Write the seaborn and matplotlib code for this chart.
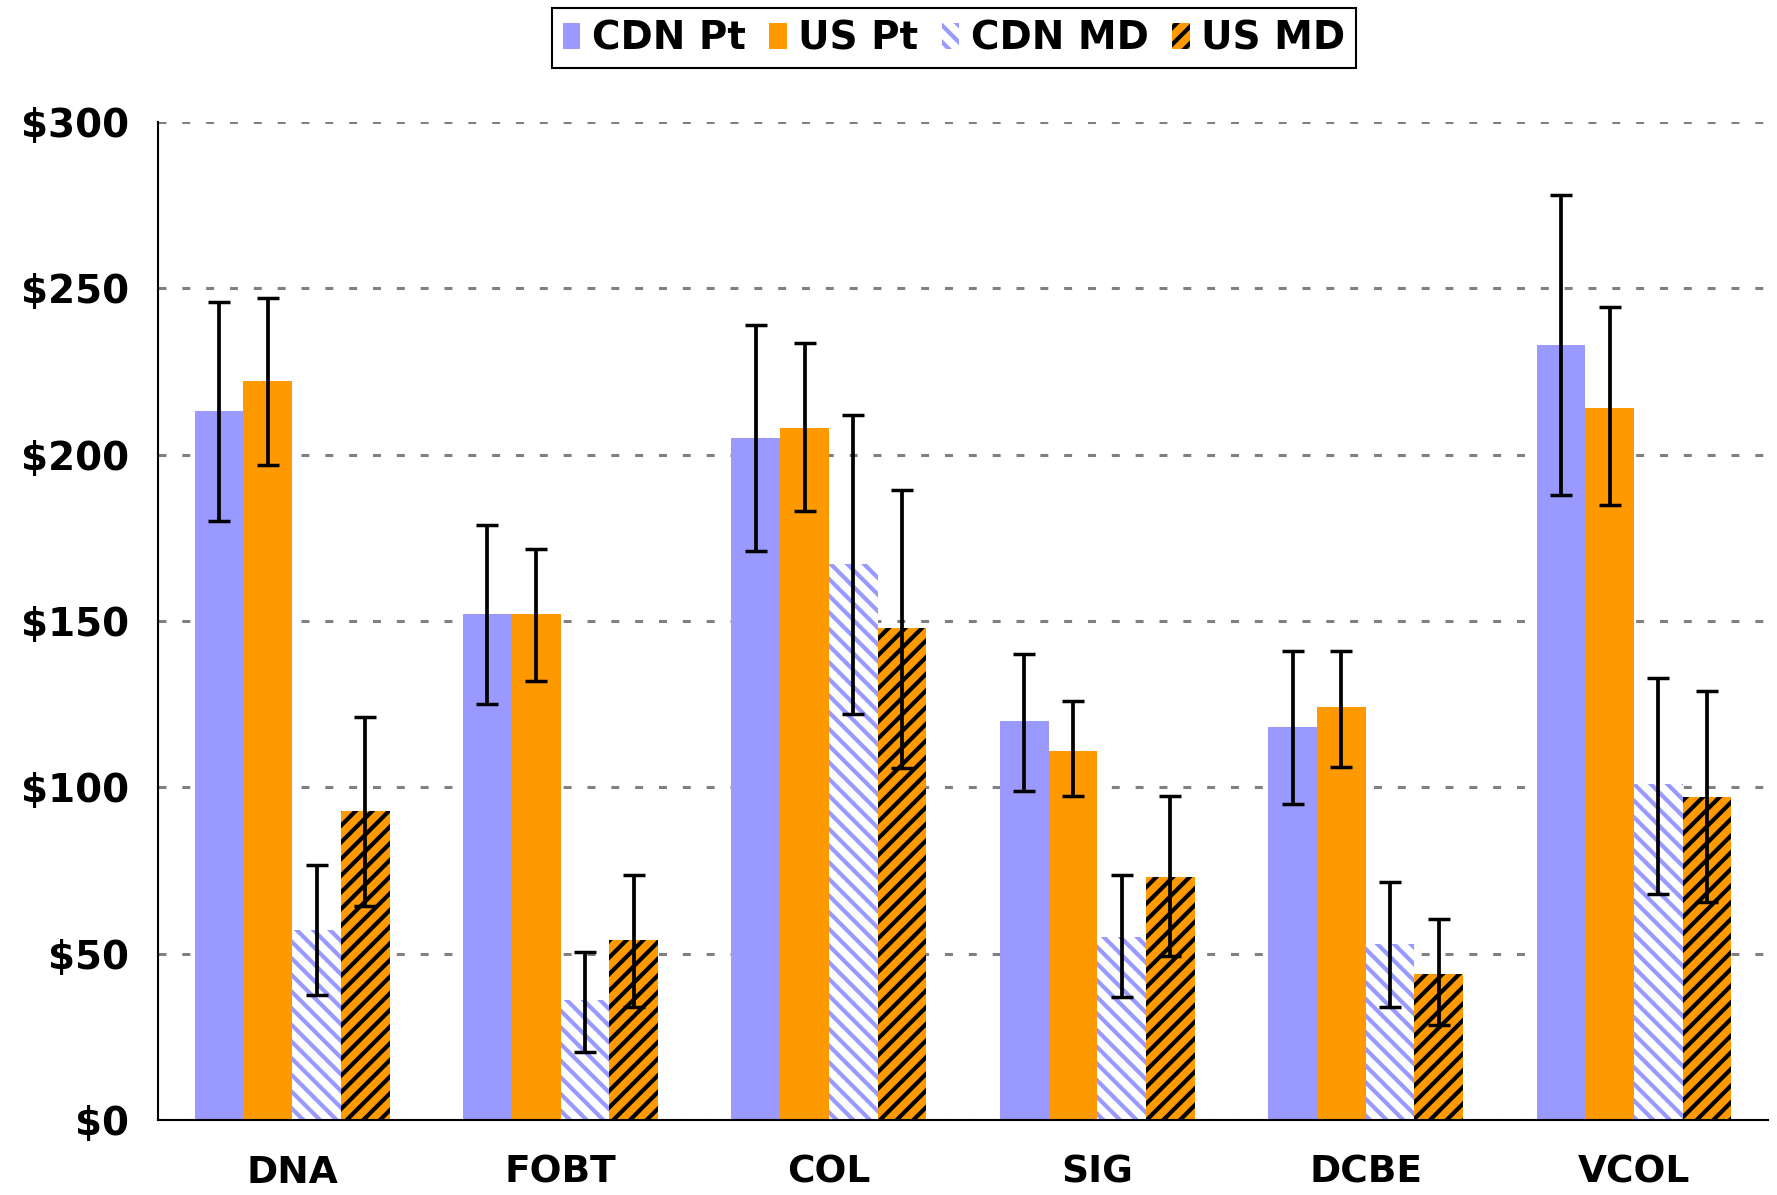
import matplotlib
matplotlib.use("Agg")
import matplotlib.pyplot as plt
import seaborn as sns
import pandas as pd
import numpy as np
from matplotlib.patches import Patch
from matplotlib.ticker import FixedLocator, FuncFormatter

categories = ["DNA", "FOBT", "COL", "SIG", "DCBE", "VCOL"]
series = ["CDN Pt", "US Pt", "CDN MD", "US MD"]

cdn_pt = [213, 152, 205, 120, 118, 233]
us_pt = [222, 152, 208, 111, 124, 214]
cdn_md = [57, 36, 167, 55, 53, 101]
us_md = [93, 54, 148, 73, 44, 97]

cdn_pt_lo = [180, 125, 171, 99, 95, 188]
cdn_pt_hi = [246, 179, 239, 140, 141, 278]
us_pt_lo = [197, 132, 183, 97.5, 106, 185]
us_pt_hi = [247, 171.5, 233.5, 126, 141, 244.5]
cdn_md_lo = [37.5, 20.5, 122, 37, 34, 68]
cdn_md_hi = [76.7, 50.5, 212, 73.6, 71.6, 133]
us_md_lo = [64.4, 34, 105.7, 49.4, 28.6, 65.5]
us_md_hi = [121, 73.6, 189.5, 97.5, 60.3, 129]

y_ticks = [0, 50, 100, 150, 200, 250, 300]

values = [cdn_pt, us_pt, cdn_md, us_md]
lows = [cdn_pt_lo, us_pt_lo, cdn_md_lo, us_md_lo]
highs = [cdn_pt_hi, us_pt_hi, cdn_md_hi, us_md_hi]

rows = []
for s, vals in zip(series, values):
    for c, v in zip(categories, vals):
        rows.append({"category": c, "series": s, "value": v})
df = pd.DataFrame(rows)

BLUE = "#9999FF"
ORANGE = "#FF9900"
face = {"CDN Pt": BLUE, "US Pt": ORANGE, "CDN MD": "white", "US MD": ORANGE}
edge = {"CDN Pt": BLUE, "US Pt": ORANGE, "CDN MD": BLUE, "US MD": "black"}
hatch = {"CDN Pt": None, "US Pt": None, "CDN MD": "\\\\", "US MD": "//"}

sns.set_style("white")
plt.rcParams["font.family"] = ["DejaVu Sans"]
plt.rcParams["font.weight"] = "bold"
plt.rcParams["hatch.linewidth"] = 3.0
for k in ["text.color", "axes.labelcolor", "xtick.color", "ytick.color",
          "xtick.labelcolor", "ytick.labelcolor"]:
    plt.rcParams[k] = "black"

fig = plt.figure(figsize=(17.77, 11.95), dpi=100)
ax = fig.add_axes([0.0889, 0.0628, 0.9061, 0.8351])

sns.barplot(data=df, x="category", y="value", hue="series", hue_order=series,
            order=categories, palette=[BLUE, ORANGE, BLUE, ORANGE],
            width=0.726, errorbar=None, saturation=1, legend=False, ax=ax)

for i, s in enumerate(series):
    cont = ax.containers[i]
    xs = []
    for p in cont.patches:
        p.set_facecolor(face[s])
        p.set_edgecolor(edge[s])
        p.set_linewidth(0)
        if hatch[s]:
            p.set_hatch(hatch[s])
        xs.append(p.get_x() + p.get_width() / 2)
    v = np.array(values[i], dtype=float)
    lo = np.array(lows[i], dtype=float)
    hi = np.array(highs[i], dtype=float)
    ax.errorbar(xs, v, yerr=[v - lo, hi - v], fmt="none", ecolor="black",
                elinewidth=2.7, capsize=8, capthick=2.5, zorder=5)

ax.set_xlim(-0.5, len(categories) - 0.5)
ax.set_ylim(0, 300)
ax.yaxis.set_major_locator(FixedLocator(y_ticks))
ax.yaxis.set_major_formatter(FuncFormatter(lambda v, p: f"${int(v)}"))
ax.set_axisbelow(True)
ax.yaxis.grid(True, linestyle=(0, (2.6, 5.2)), color="#808080", linewidth=2.2)
ax.xaxis.grid(False)

ax.set_xlabel("")
ax.set_ylabel("")
for side in ["top", "right"]:
    ax.spines[side].set_visible(False)
for side in ["left", "bottom"]:
    ax.spines[side].set_color("black")
    ax.spines[side].set_linewidth(1.5)

ax.xaxis.set_minor_locator(FixedLocator(np.arange(-0.5, len(categories), 1.0)))
ax.tick_params(axis="x", which="major", length=0, pad=25, labelsize=27, labelcolor="black")
ax.tick_params(axis="x", which="minor", length=9, width=1.5, direction="out", color="black")
ax.tick_params(axis="y", which="major", length=9, width=1.5, direction="out",
               color="black", pad=12, labelsize=28, labelcolor="black")
for lab in ax.get_xticklabels() + ax.get_yticklabels():
    lab.set_fontweight("bold")

handles = [Patch(facecolor=face[s], edgecolor=edge[s], hatch=hatch[s], linewidth=0, label=s)
           for s in series]
leg = fig.legend(handles=handles, loc="upper center", bbox_to_anchor=(0.537, 0.993),
                 ncol=4, frameon=True, fancybox=False, edgecolor="black",
                 framealpha=1, handlelength=0.45, handleheight=0.65,
                 handletextpad=0.3, columnspacing=0.6, borderpad=0.28,
                 borderaxespad=0.0, prop={"size": 28, "weight": "bold"})
leg.get_frame().set_linewidth(1.5)
for t in leg.get_texts():
    t.set_color("black")

fig.savefig("out.png", dpi=100)
